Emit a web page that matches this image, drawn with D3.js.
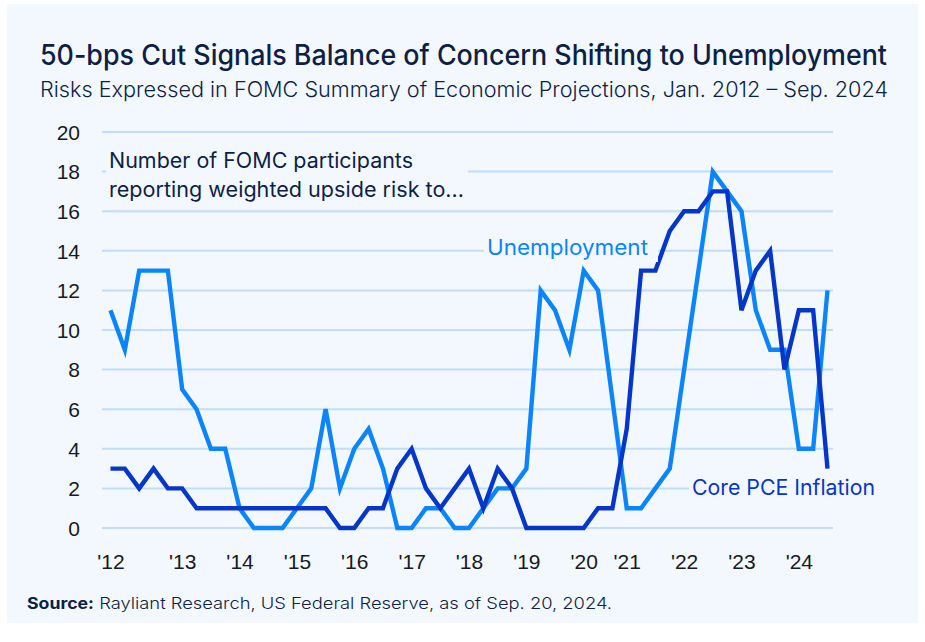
<!DOCTYPE html>
<html>
<head>
<meta charset="utf-8">
<script src="https://cdn.jsdelivr.net/npm/d3@7"></script>
<style>
  html, body { margin: 0; padding: 0; background: #ffffff; }
  svg { display: block; }
</style>
</head>
<body>
<svg id="chart" width="925" height="642"></svg>
<script>
// ---- data (one entry per FOMC SEP release, Jan 2012 - Sep 2024) ----
const meetings = d3.range(51).map(i => "SEP " + (i + 1));
const unemployment = [11, 9, 13, 13, 13, 7, 6, 4, 4, 1, 0, 0, 0, 1, 2, 6, 2, 4, 5, 3,
  0, 0, 1, 1, 0, 0, 1, 2, 2, 3, 12, 11, 9, 13, 12, null, 1, 1, 2, 3,
  8, 13, 18, 17, 16, 11, 9, 9, 4, 4, 12];
const corePCE = [3, 3, 2, 3, 2, 2, 1, 1, 1, 1, 1, 1, 1, 1, 1, 1, 0, 0, 1, 1,
  3, 4, 2, 1, 2, 3, 1, 3, 2, 0, 0, 0, 0, 0, 1, 1, 5, 13, 13, 15,
  16, 16, 17, 17, 11, 13, 14, 8, 11, 11, 3];
const yearTickIndex = [0, 5, 9, 13, 17, 21, 25, 29, 33, 36, 40, 44, 48];
const yearTickLabels = ["'12", "'13", "'14", "'15", "'16", "'17", "'18", "'19", "'20", "'21", "'22", "'23", "'24"];
const yTicks = [0, 2, 4, 6, 8, 10, 12, 14, 16, 18, 20];

// ---- styles ----
const BG = "#f3f8fe", NAVY = "#0d1f45", LIGHT = "#0a84ff", DARK = "#0436c8", GRID = "#c3dcf8";
const svg = d3.select("#chart");

svg.append("rect").attr("x", 7).attr("y", 4).attr("width", 911).attr("height", 619).attr("fill", BG);

const x = d3.scaleLinear().domain([0, meetings.length - 1]).range([110.5, 827.5]);
const y = d3.scaleLinear().domain([0, 20]).range([528, 132]);

// gridlines
svg.append("g").selectAll("line").data(yTicks).join("line")
  .attr("x1", 102).attr("x2", 833)
  .attr("y1", d => y(d)).attr("y2", d => y(d))
  .attr("stroke", GRID).attr("stroke-width", 2);

// y axis labels
const yAxis = d3.axisLeft(y).tickValues(yTicks).tickSize(0).tickPadding(0);
const gy = svg.append("g").attr("transform", "translate(80,0)").call(yAxis);
gy.select(".domain").remove();
gy.selectAll("text").attr("font-family", "'Liberation Sans Narrow', 'Liberation Sans', sans-serif")
  .attr("font-size", 21).attr("fill", "#161a22").attr("dy", "0.35em");

// x axis labels
const xAxis = d3.axisBottom(x).tickValues(yearTickIndex)
  .tickFormat((d, i) => yearTickLabels[i]).tickSize(0).tickPadding(0);
const gx = svg.append("g").attr("transform", "translate(0,553)").call(xAxis);
gx.select(".domain").remove();
gx.selectAll("text").attr("font-family", "'Liberation Sans Narrow', 'Liberation Sans', sans-serif")
  .attr("font-size", 21).attr("fill", "#161a22").attr("dy", "0.75em");

// lines
const line = d3.line().x(d => x(d.i)).y(d => y(d.v)).curve(d3.curveLinear);
const toPts = arr => arr.map((v, i) => ({ i, v })).filter(d => d.v !== null);
svg.append("path").datum(toPts(unemployment)).attr("d", line)
  .attr("fill", "none").attr("stroke", LIGHT).attr("stroke-width", 4.4).attr("stroke-linejoin", "miter");
svg.append("path").datum(toPts(corePCE)).attr("d", line)
  .attr("fill", "none").attr("stroke", DARK).attr("stroke-width", 4.4).attr("stroke-linejoin", "miter");

// label boxes + text
function label(txt, x0, yb, w, color, size, box) {
  if (box) svg.append("rect").attr("x", box[0]).attr("y", box[1]).attr("width", box[2]).attr("height", box[3]).attr("fill", BG);
  svg.append("text").attr("x", x0).attr("y", yb).text(txt)
    .attr("font-family", "Inter, 'Noto Sans', sans-serif").attr("font-size", size)
    .attr("fill", color).attr("textLength", w).attr("lengthAdjust", "spacingAndGlyphs");
}
svg.append("rect").attr("x", 106).attr("y", 146).attr("width", 362).attr("height", 58).attr("fill", BG);
label("Number of FOMC participants", 109, 168, 304, NAVY, 21);
label("reporting weighted upside risk to...", 109, 197, 355, NAVY, 21);
label("Unemployment", 487, 255, 161, LIGHT, 21, [484, 236, 174, 26]);
label("Core PCE Inflation", 692, 495, 183, DARK, 21, [689, 476, 190, 26]);

// title, subtitle, source
svg.append("text").attr("x", 40).attr("y", 65).text("50-bps Cut Signals Balance of Concern Shifting to Unemployment")
  .attr("font-family", "Inter, 'Liberation Sans', sans-serif").attr("font-size", 28).attr("font-weight", 500)
  .attr("fill", NAVY).attr("textLength", 847).attr("lengthAdjust", "spacingAndGlyphs");
svg.append("text").attr("x", 40).attr("y", 97).text("Risks Expressed in FOMC Summary of Economic Projections, Jan. 2012 \u2013 Sep. 2024")
  .attr("font-family", "Inter, 'Liberation Sans', sans-serif").attr("font-size", 21).attr("font-weight", 300)
  .attr("fill", NAVY).attr("textLength", 848).attr("lengthAdjust", "spacingAndGlyphs");
const src = svg.append("text").attr("x", 27).attr("y", 609)
  .attr("font-family", "Inter, 'Liberation Sans', sans-serif").attr("font-size", 16).attr("fill", NAVY);
src.append("tspan").text("Source:").attr("font-weight", 700).attr("textLength", 67).attr("lengthAdjust", "spacingAndGlyphs");
src.append("tspan").text(" Rayliant Research, US Federal Reserve, as of Sep. 20, 2024.").attr("font-weight", 300)
  .attr("textLength", 518).attr("lengthAdjust", "spacingAndGlyphs");
</script>
</body>
</html>
